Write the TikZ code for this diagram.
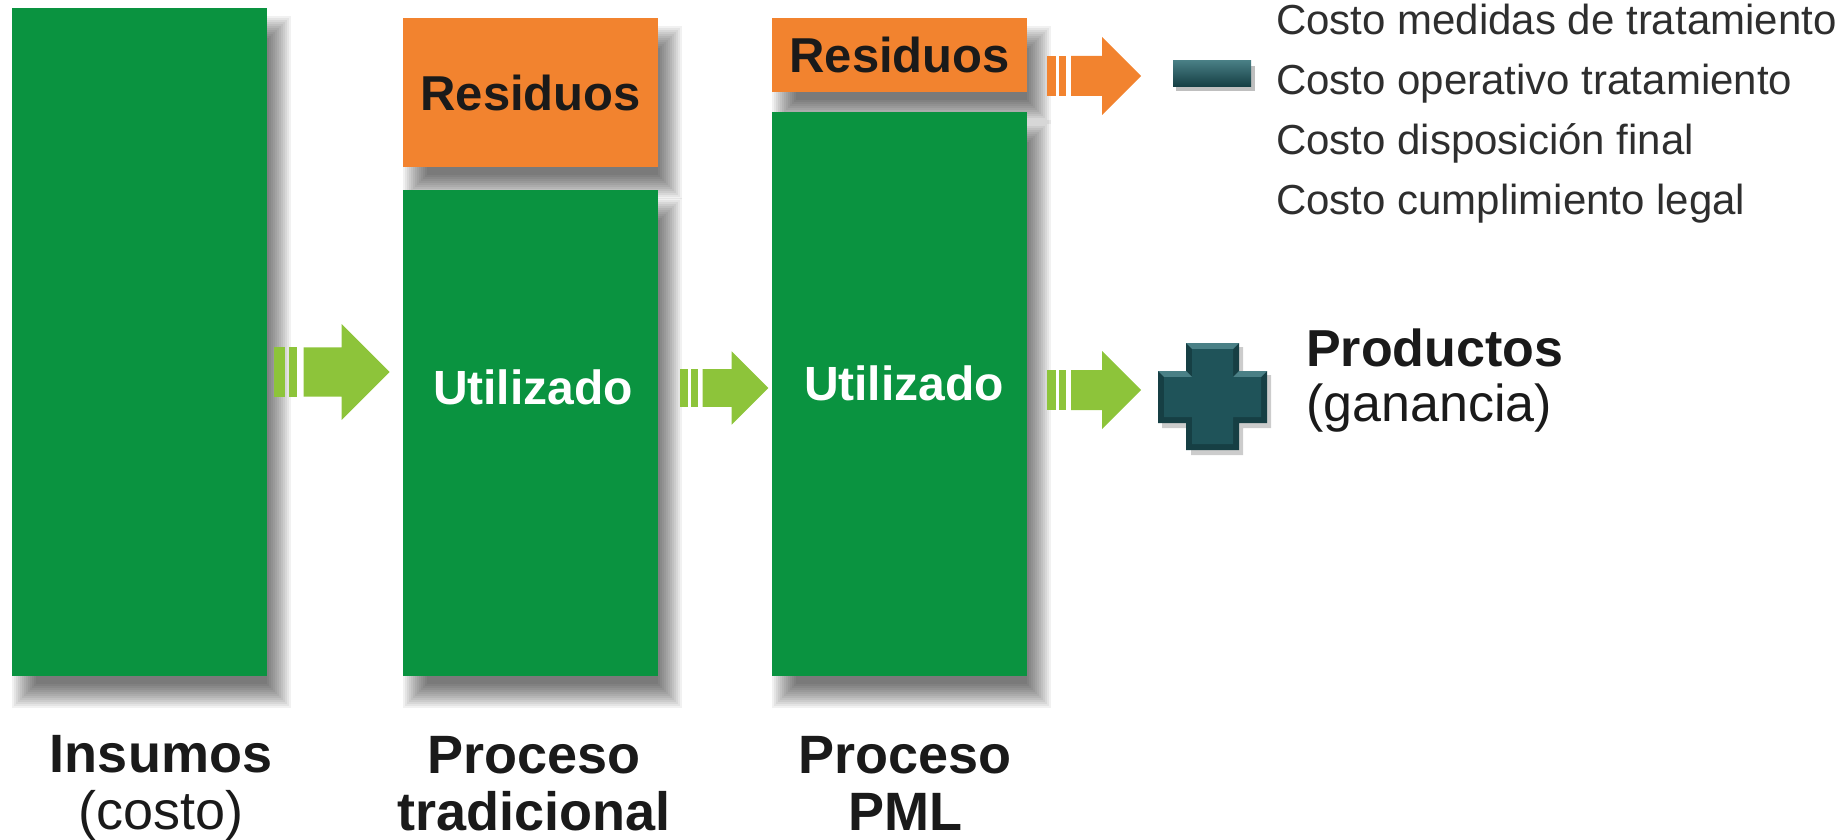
\documentclass[tikz,border=0pt]{standalone}
\usepackage{fontspec}
\setmainfont{Liberation Sans}
\usetikzlibrary{positioning,backgrounds}

\definecolor{bargreen}{HTML}{0A9340}
\definecolor{resorange}{HTML}{F2832F}
\definecolor{arrowgreen}{HTML}{8DC43A}
\definecolor{signteal}{HTML}{1F5359}
\definecolor{signlight}{HTML}{4A8086}
\definecolor{signdark}{HTML}{163F44}
\definecolor{darktext}{HTML}{1A1A1A}
\definecolor{costtext}{HTML}{2E2E2E}

% soft shadow behind a node, offset to the lower right
\newcommand{\softshadow}[1]{%
  \foreach \e in {0,2,...,24}
    \fill[black, opacity=0.055] ([shift={(24-\e,32-\e)}]#1.north west) rectangle ([shift={(\e,8+\e)}]#1.south east);
}

\begin{document}
\begin{tikzpicture}[x=1pt, y=-1pt,
    bar/.style={rectangle, fill=bargreen, minimum width=255pt, inner sep=0pt, anchor=north west},
    residue/.style={rectangle, fill=resorange, minimum width=255pt, inner sep=0pt, anchor=north west, text=darktext, font=\fontsize{49}{52}\selectfont\bfseries},
    used/.style={text=white, font=\fontsize{48}{52}\selectfont\bfseries},
    colcaption/.style={anchor=north, align=center, inner sep=0pt, text=darktext, font=\fontsize{54}{57}\selectfont\bfseries},
    costline/.style={anchor=north west, align=left, inner sep=0pt, text=costtext, font=\fontsize{42}{60}\selectfont},
    fatarrow/.pic={
      \fill (0,-20) rectangle (9,20);
      \fill (12,-20) rectangle (19,20);
      \fill (24,-20) -- (55,-20) -- (55,-39) -- (94,0) -- (55,39) -- (55,20) -- (24,20) -- cycle;
    }
]
\useasboundingbox (0,0) rectangle (1847,840);

% Columns
\node[bar, minimum height=668pt] (insumos) at (12,8) {};
\node[residue, minimum height=149pt] (restrad) at (403,18) {Residuos};
\node[bar, minimum height=486pt] (trad) at (403,190) {};
\node[residue, minimum height=74pt] (respml) at (772,18) {Residuos};
\node[bar, minimum height=564pt] (pml) at (772,112) {};

\begin{scope}[on background layer]
  \softshadow{insumos}
  \softshadow{restrad}
  \softshadow{trad}
  \softshadow{respml}
  \softshadow{pml}
\end{scope}

\node[used] (usedtrad) at (533,387) {Utilizado};
\node[used] (usedpml) at (904,383) {Utilizado};

% Captions
\node[colcaption] (capins) at (161,735) {Insumos\\{\mdseries(costo)}};
\node[colcaption] (captrad) at (534,736) {Proceso\\tradicional};
\node[colcaption] (cappml) at (905,736) {Proceso\\PML};

% Arrows
\pic[color=arrowgreen, scale=1.23] at (274,372) {fatarrow};
\pic[color=arrowgreen, scale=0.94] at (680,388) {fatarrow};
\pic[color=arrowgreen] at (1047,390) {fatarrow};
\pic[color=resorange] at (1047,76) {fatarrow};

% Minus sign and costs
\fill[black, opacity=0.25] (1176,66) rectangle (1255,91);
\node[rectangle, minimum width=78pt, minimum height=26pt, inner sep=0pt, top color=signlight, middle color=signteal, bottom color=signdark, anchor=north west] (minus) at (1173,60) {};
\node[costline] (costs) at (1276,4) {Costo medidas de tratamiento\\Costo operativo tratamiento\\Costo disposici\'on final\\Costo cumplimiento legal};

% Plus sign and products
\fill[black, opacity=0.2] (1191,347) -- (1243,347) -- (1243,375) -- (1271,375) -- (1271,428) -- (1243,428) -- (1243,455) -- (1191,455) -- (1191,428) -- (1162,428) -- (1162,375) -- (1191,375) -- cycle;
\fill[signdark] (1186,343) -- (1239,343) -- (1239,371) -- (1267,371) -- (1267,423) -- (1239,423) -- (1239,450) -- (1186,450) -- (1186,423) -- (1158,423) -- (1158,371) -- (1186,371) -- cycle;
\fill[signlight] (1186,343) -- (1239,343) -- (1233,349) -- (1192,349) -- cycle;
\fill[signlight] (1158,371) -- (1186,371) -- (1192,377) -- (1164,377) -- cycle;
\fill[signlight] (1239,371) -- (1267,371) -- (1261,377) -- (1233,377) -- cycle;
\fill[signteal] (1192,349) -- (1233,349) -- (1233,377) -- (1261,377) -- (1261,417) -- (1233,417) -- (1233,444) -- (1192,444) -- (1192,417) -- (1164,417) -- (1164,377) -- (1192,377) -- cycle;
\node[anchor=north west, align=left, inner sep=0pt, text=darktext, font=\fontsize{52}{55}\selectfont\bfseries] (productos) at (1306,329) {Productos\\{\mdseries(ganancia)}};

\end{tikzpicture}
\end{document}
